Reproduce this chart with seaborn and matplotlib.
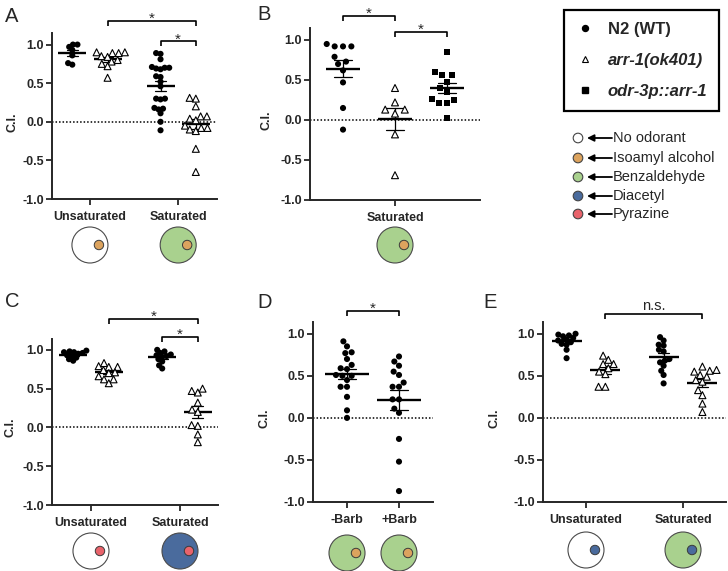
import matplotlib
matplotlib.use("Agg")
import numpy as np
import pandas as pd
import matplotlib.pyplot as plt
from matplotlib.patches import Circle
from matplotlib.lines import Line2D
import seaborn as sns

sns.set_style("ticks")
plt.rcParams["font.family"] = ["Liberation Sans", "DejaVu Sans"]
plt.rcParams["axes.unicode_minus"] = False

# ---------------- data ----------------
A_unsat_wt = [1.00, 1.00, 0.97, 0.93, 0.86, 0.74, 0.76]
A_unsat_arr = [0.90, 0.90, 0.89, 0.89, 0.85, 0.84, 0.80, 0.78, 0.75, 0.72, 0.57]
A_sat_wt = [0.89, 0.88, 0.81, 0.71, 0.70, 0.70, 0.69, 0.68, 0.59, 0.58, 0.52, 0.46,
            0.30, 0.30, 0.29, 0.18, 0.17, 0.16, 0.11, 0.00, -0.11]
A_sat_arr = [0.30, 0.31, 0.20, 0.07, 0.07, 0.04, 0.02, -0.05, -0.08, -0.10, -0.12, -0.08, -0.35, -0.65]

B_wt = [0.95, 0.92, 0.92, 0.92, 0.79, 0.73, 0.70, 0.62, 0.47, 0.15, -0.12]
B_arr = [0.40, 0.22, 0.13, 0.13, 0.08, -0.18, -0.69]
B_odr = [0.85, 0.60, 0.56, 0.56, 0.48, 0.40, 0.35, 0.26, 0.21, 0.21, 0.25, 0.03]

C_unsat_wt = [0.99, 0.97, 0.98, 0.97, 0.96, 0.95, 0.93, 0.92, 0.90, 0.86, 0.88]
C_unsat_arr = [0.83, 0.79, 0.78, 0.78, 0.74, 0.71, 0.70, 0.66, 0.62, 0.62, 0.57]
C_sat_wt = [0.98, 0.96, 1.00, 0.94, 0.93, 0.92, 0.91, 0.88, 0.85, 0.80, 0.76]
C_sat_arr = [0.50, 0.45, 0.47, 0.32, 0.23, 0.20, 0.02, 0.03, -0.09, -0.19]

D_minus = [0.91, 0.85, 0.78, 0.77, 0.70, 0.63, 0.59, 0.58, 0.51, 0.50, 0.50, 0.45,
           0.37, 0.37, 0.25, 0.09, 0.00]
D_plus = [0.73, 0.67, 0.62, 0.55, 0.51, 0.42, 0.37, 0.37, 0.22, 0.22, 0.11, 0.06,
          -0.25, -0.52, -0.87]

E_unsat_wt = [1.00, 0.99, 0.98, 0.97, 0.95, 0.93, 0.92, 0.90, 0.88, 0.87, 0.81, 0.71]
E_unsat_arr = [0.74, 0.69, 0.64, 0.64, 0.59, 0.55, 0.52, 0.37, 0.37]
E_sat_wt = [0.96, 0.92, 0.87, 0.86, 0.81, 0.79, 0.70, 0.68, 0.66, 0.62, 0.56, 0.51, 0.41]
E_sat_arr = [0.61, 0.57, 0.55, 0.56, 0.51, 0.49, 0.45, 0.43, 0.33, 0.27, 0.17, 0.07]

STRAINS = ["N2 (WT)", "arr-1(ok401)", "odr-3p::arr-1"]
ODORANTS = ["No odorant", "Isoamyl alcohol", "Benzaldehyde", "Diacetyl", "Pyrazine"]
ODOR_COLORS = {"No odorant": "#ffffff", "Isoamyl alcohol": "#dca35e",
               "Benzaldehyde": "#a9d18e", "Diacetyl": "#4a6b9d", "Pyrazine": "#e9636b"}
YTICKS = [-1.0, -0.5, 0.0, 0.5, 1.0]
YTICKLABELS = ["-1.0", "-0.5", "0.0", "0.5", "1.0"]

MARKERS = {"N2 (WT)": "o", "arr-1(ok401)": "^", "odr-3p::arr-1": "s"}
FILL = {"N2 (WT)": "black", "arr-1(ok401)": "white", "odr-3p::arr-1": "black"}
SIZE = {"N2 (WT)": 4.4, "arr-1(ok401)": 5.0, "odr-3p::arr-1": 4.3}

W, H = 728, 571
fig = plt.figure(figsize=(W / 100, H / 100), dpi=100)
fig.patch.set_facecolor("white")

SWARMS = []


def frame(groups):
    rows = []
    for cond, strain, vals in groups:
        for v in vals:
            rows.append({"cond": cond, "strain": strain, "ci": v})
    return pd.DataFrame(rows)


def px_axes(l, t, r, b):
    return fig.add_axes([l / W, 1 - b / H, (r - l) / W, (b - t) / H])


def draw(ax, df, order, hue_order, mean_ms, capsize, packing):
    multi = len(hue_order) > 1
    for s in hue_order:
        sub = df[df["strain"] == s]
        n0 = len(ax.collections)
        # swarm laid out with a packing-scaled marker so points overlap like the original
        sns.swarmplot(data=sub, x="cond", y="ci", hue="strain", order=order,
                      hue_order=hue_order, dodge=multi, palette=FILL,
                      marker=MARKERS[s], size=SIZE[s] * packing, edgecolor="black",
                      linewidth=0.8 if s == "arr-1(ok401)" else 0,
                      legend=False, ax=ax)
        for c in ax.collections[n0:]:
            SWARMS.append((c, SIZE[s]))
    n = len(hue_order)
    dodge_amt = (0.8 - 0.8 / n) if multi else False
    sns.pointplot(data=df, x="cond", y="ci", hue="strain", order=order,
                  hue_order=hue_order, dodge=dodge_amt,
                  palette={s: "black" for s in hue_order}, markers="_",
                  markersize=mean_ms, markeredgewidth=1.7, linestyle="none",
                  errorbar="se", capsize=capsize, err_kws={"linewidth": 0.9},
                  legend=False, ax=ax)


def style(ax, ytop, xlim, labels, label_px, left_px, width_px):
    ax.set_ylim(-1.0, ytop)
    ax.set_xlim(*xlim)
    ax.set_yticks(YTICKS)
    ax.set_yticklabels(YTICKLABELS, fontweight="bold", fontsize=9)
    ax.set_xticks(range(len(labels)))
    ax.set_xticklabels(labels, fontweight="bold", fontsize=9)
    ax.set_xlabel("")
    ax.set_ylabel("C.I.", fontweight="bold", fontsize=9)
    ax.yaxis.set_label_coords((label_px + 7 - left_px) / width_px, 1.0 / (1.0 + ytop))
    for s in ["top", "right"]:
        ax.spines[s].set_visible(False)
    for s in ["left", "bottom"]:
        ax.spines[s].set_linewidth(1.4)
    ax.tick_params(axis="y", width=1.3, length=4.5, pad=1.5)
    ax.tick_params(axis="x", width=1.3, length=4.5, pad=4)
    ax.axhline(0, color="black", lw=1.1, ls=(0, (1, 1.3)), zorder=0.5)
    ax.set_facecolor("none")


def bracket(ax, x1, x2, y, text):
    ppu = ax.transData.transform((0, 1))[1] - ax.transData.transform((0, 0))[1]
    drop = 5.0 / ppu
    ax.plot([x1, x1, x2, x2], [y - drop, y, y, y - drop], color="black", lw=1.2,
            clip_on=False, solid_capstyle="butt")
    if text == "*":
        ax.annotate(text, xy=((x1 + x2) / 2, y), xytext=(0, -1.5), textcoords="offset points",
                    ha="center", va="baseline", fontsize=11, annotation_clip=False)
    else:
        ax.annotate(text, xy=((x1 + x2) / 2, y), xytext=(0, 2.5), textcoords="offset points",
                    ha="center", va="baseline", fontsize=10.5, annotation_clip=False)


# ---------------- panels ----------------
panels = []

# A
dfA = frame([("Unsaturated", STRAINS[0], A_unsat_wt), ("Unsaturated", STRAINS[1], A_unsat_arr),
             ("Saturated", STRAINS[0], A_sat_wt), ("Saturated", STRAINS[1], A_sat_arr)])
axA = px_axes(52, 33, 217, 199)
draw(axA, dfA, ["Unsaturated", "Saturated"], STRAINS[:2], 19.5, 0.125, 0.7)
style(axA, 1.15, (-0.43, 1.44), ["Unsaturated", "Saturated"], 11, 52, 165)
bracket(axA, 0.2, 1.2, 1.31, "*")
bracket(axA, 0.8, 1.2, 1.04, "*")
panels.append((axA, [("#ffffff", "Isoamyl alcohol"), ("Benzaldehyde", "Isoamyl alcohol")], 245))

# B
dfB = frame([("Saturated", STRAINS[0], B_wt), ("Saturated", STRAINS[1], B_arr),
             ("Saturated", STRAINS[2], B_odr)])
axB = px_axes(310, 28, 480, 200)
draw(axB, dfB, ["Saturated"], STRAINS, 25, 0.09, 1.3)
style(axB, 1.15, (-0.436, 0.436), ["Saturated"], 265, 310, 170)
bracket(axB, -0.267, 0.0, 1.30, "*")
bracket(axB, 0.0, 0.267, 1.10, "*")
panels.append((axB, [("Benzaldehyde", "Isoamyl alcohol")], 245))

# C
dfC = frame([("Unsaturated", STRAINS[0], C_unsat_wt), ("Unsaturated", STRAINS[1], C_unsat_arr),
             ("Saturated", STRAINS[0], C_sat_wt), ("Saturated", STRAINS[1], C_sat_arr)])
axC = px_axes(52, 339, 218, 505)
draw(axC, dfC, ["Unsaturated", "Saturated"], STRAINS[:2], 19.5, 0.124, 0.7)
style(axC, 1.14, (-0.438, 1.427), ["Unsaturated", "Saturated"], 10, 52, 166)
bracket(axC, 0.2, 1.2, 1.40, "*")
bracket(axC, 0.8, 1.2, 1.165, "*")
panels.append((axC, [("#ffffff", "Pyrazine"), ("Diacetyl", "Pyrazine")], 551))

# D
dfD = frame([("-Barb", STRAINS[0], D_minus), ("+Barb", STRAINS[0], D_plus)])
axD = px_axes(313, 322, 433, 502)
draw(axD, dfD, ["-Barb", "+Barb"], STRAINS[:1], 31, 0.35, 1.0)
style(axD, 1.14, (-0.654, 1.654), ["-Barb", "+Barb"], 264, 313, 120)
bracket(axD, 0.0, 1.0, 1.27, "*")
panels.append((axD, [("Benzaldehyde", "Isoamyl alcohol"), ("Benzaldehyde", "Isoamyl alcohol")], 553))

# E
dfE = frame([("Unsaturated", STRAINS[0], E_unsat_wt), ("Unsaturated", STRAINS[1], E_unsat_arr),
             ("Saturated", STRAINS[0], E_sat_wt), ("Saturated", STRAINS[1], E_sat_arr)])
axE = px_axes(543, 322, 726, 502)
draw(axE, dfE, ["Unsaturated", "Saturated"], STRAINS[:2], 22, 0.113, 0.78)
style(axE, 1.14, (-0.443, 1.443), ["Unsaturated", "Saturated"], 493, 543, 183)
bracket(axE, 0.2, 1.2, 1.24, "n.s.")
panels.append((axE, [("#ffffff", "Diacetyl"), ("Benzaldehyde", "Diacetyl")], 550))

# panel letters
for letter, x, yb in [("A", 5, 22), ("B", 257, 20), ("C", 5, 307), ("D", 257, 308), ("E", 483, 308)]:
    fig.text(x / W, 1 - yb / H, letter, fontsize=14.5, va="baseline", ha="left")

# ---------------- overlay (dishes + odorant key) ----------------
ov = fig.add_axes([0, 0, 1, 1])
ov.set_xlim(0, W)
ov.set_ylim(0, H)
ov.axis("off")


def colr(key):
    return ODOR_COLORS.get(key, key)


for ax, dishes, ypx in panels:
    for i, (outer, inner) in enumerate(dishes):
        cx = ax.transData.transform((i, 0))[0]
        cy = H - ypx
        ov.add_patch(Circle((cx, cy), 18, facecolor=colr(outer), edgecolor="#4a4a4a", lw=0.8))
        ov.add_patch(Circle((cx + 9, cy), 4.7, facecolor=colr(inner), edgecolor="#3a3a3a", lw=0.7))

# odorant key
for name, ypx in zip(ODORANTS, [138, 158, 177, 196, 214]):
    cy = H - ypx
    ov.add_patch(Circle((578, cy), 4.8, facecolor=ODOR_COLORS[name], edgecolor="#444444", lw=0.8))
    ov.annotate("", xy=(587, cy), xytext=(612, cy),
                arrowprops=dict(arrowstyle="-|>", lw=1.3, color="black",
                                mutation_scale=10, shrinkA=0, shrinkB=0))
    ov.text(613, cy, name, fontsize=10.5, va="center", ha="left")

# strain legend
handles = [
    Line2D([], [], marker="o", ls="none", color="black", markersize=4.3),
    Line2D([], [], marker="^", ls="none", markerfacecolor="white", markeredgecolor="black",
           markeredgewidth=0.8, markersize=4.6),
    Line2D([], [], marker="s", ls="none", color="black", markersize=4.0),
]
leg = fig.legend(handles, STRAINS, loc="upper left", bbox_to_anchor=(564 / W, 1 - 10 / H),
                 frameon=True, fancybox=False, edgecolor="black", framealpha=1,
                 prop=dict(weight="bold", size=12), borderpad=0.72, labelspacing=0.95,
                 handlelength=1.1, handletextpad=0.8, borderaxespad=0)
leg.get_frame().set_linewidth(1.6)
for t in leg.get_texts()[1:]:
    t.set_fontstyle("italic")

# lay out the swarms once, then freeze positions and restore full marker size
fig.canvas.draw()
for coll, sz in SWARMS:
    if "draw" in coll.__dict__:
        del coll.__dict__["draw"]
    coll.set_sizes([sz ** 2])

fig.savefig("out.png", dpi=100, facecolor="white")
